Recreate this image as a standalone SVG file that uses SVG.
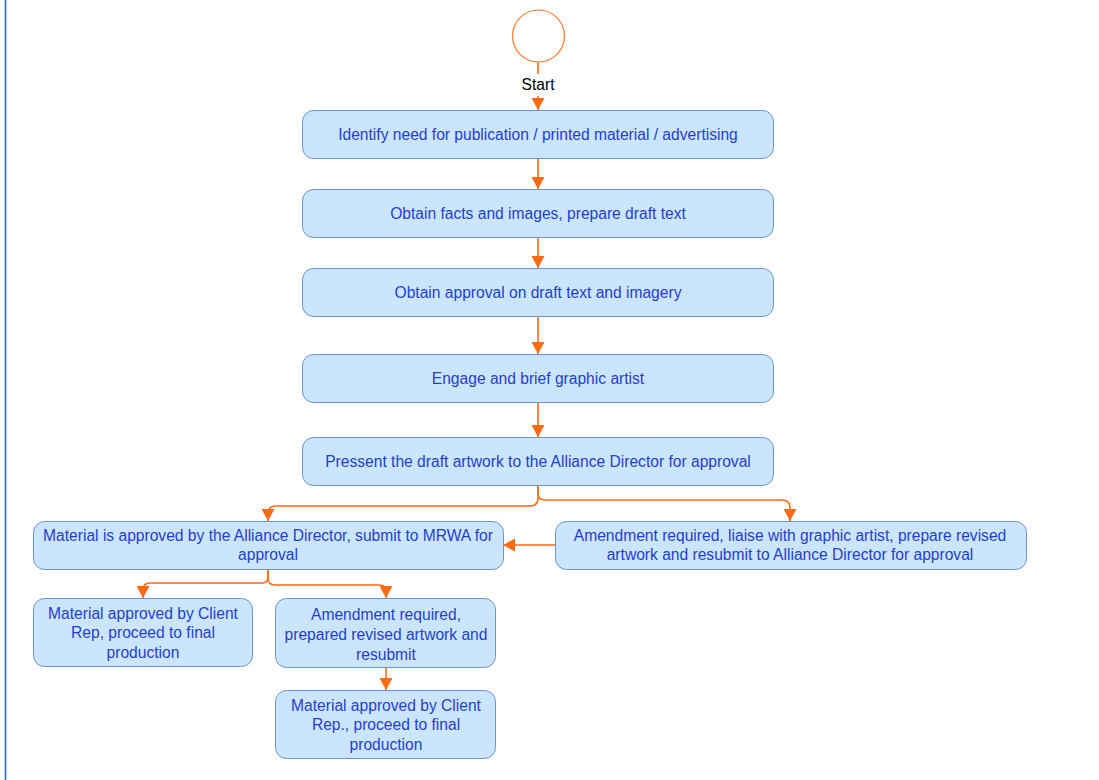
<svg xmlns="http://www.w3.org/2000/svg" width="1099" height="780" viewBox="0 0 1099 780">
  <style>
    .box { fill: #cce5fe; stroke: #6b94d6; stroke-width: 1; }
    .lbl { font-family: "Liberation Sans", Arial, sans-serif; font-size: 15.6px; fill: #1f3fcf; text-anchor: middle; }
    .edge { fill: none; stroke: #ff6a13; stroke-width: 1.6; }
  </style>
  <defs>
    <marker id="arrow" viewBox="0 0 12 13" refX="12" refY="6.5" markerWidth="12" markerHeight="13" markerUnits="userSpaceOnUse" orient="auto">
      <path d="M0,0 L12,6.5 L0,13 Z" fill="#ff6a13"/>
    </marker>
  </defs>
  <rect width="1099" height="780" fill="#ffffff"/>
  <!-- page margin line -->
  <line x1="5.5" y1="0" x2="5.5" y2="780" stroke="#c9dcff" stroke-width="3"/>
  <line x1="5.5" y1="0" x2="5.5" y2="780" stroke="#2a74f0" stroke-width="1.2"/>

  <g id="connectors">
    <line class="edge" x1="538" y1="62" x2="538" y2="74"/>
    <line class="edge" x1="538" y1="96" x2="538" y2="110" marker-end="url(#arrow)"/>
    <line class="edge" x1="538" y1="158" x2="538" y2="189" marker-end="url(#arrow)"/>
    <line class="edge" x1="538" y1="237" x2="538" y2="268" marker-end="url(#arrow)"/>
    <line class="edge" x1="538" y1="317" x2="538" y2="354" marker-end="url(#arrow)"/>
    <line class="edge" x1="538" y1="402" x2="538" y2="437" marker-end="url(#arrow)"/>
    <path class="edge" d="M538,485 L538,498 Q538,506 530,506 L276,506 Q268,506 268,514 L268,521" marker-end="url(#arrow)"/>
    <path class="edge" d="M538,485 L538,493 Q538,500 545,500 L782,500 Q790,500 790,508 L790,521" marker-end="url(#arrow)"/>
    <line class="edge" x1="555" y1="545" x2="503" y2="545" marker-end="url(#arrow)"/>
    <path class="edge" d="M268,569 L268,577 Q268,583 262,583 L150,583 Q143,583 143,590 L143,598" marker-end="url(#arrow)"/>
    <path class="edge" d="M268,569 L268,578 Q268,585 275,585 L379,585 Q386,585 386,591 L386,598" marker-end="url(#arrow)"/>
    <line class="edge" x1="386" y1="668" x2="386" y2="690" marker-end="url(#arrow)"/>
  </g>

  <g id="start">
    <circle cx="538.5" cy="36" r="26" fill="#ffffff" stroke="#ff7a2a" stroke-width="1.2"/>
    <text x="538" y="90" font-family="Liberation Sans, Arial, sans-serif" font-size="15.6" fill="#000000" text-anchor="middle">Start</text>
  </g>

  <g id="identify">
    <rect class="box" x="302.5" y="110.5" width="471" height="48" rx="11"/>
    <text class="lbl" x="538" y="140">Identify need for publication / printed material / advertising</text>
  </g>
  <g id="obtain-facts">
    <rect class="box" x="302.5" y="189.5" width="471" height="48" rx="11"/>
    <text class="lbl" x="538" y="219">Obtain facts and images, prepare draft text</text>
  </g>
  <g id="obtain-approval">
    <rect class="box" x="302.5" y="268.5" width="471" height="48" rx="11"/>
    <text class="lbl" x="538" y="298">Obtain approval on draft text and imagery</text>
  </g>
  <g id="engage-artist">
    <rect class="box" x="302.5" y="354.5" width="471" height="48" rx="11"/>
    <text class="lbl" x="538" y="384">Engage and brief graphic artist</text>
  </g>
  <g id="present-draft">
    <rect class="box" x="302.5" y="437.5" width="471" height="48" rx="11"/>
    <text class="lbl" x="538" y="467">Pressent the draft artwork to the Alliance Director for approval</text>
  </g>
  <g id="approved-director">
    <rect class="box" x="33.5" y="521.5" width="470" height="48" rx="11"/>
    <text class="lbl" x="268" y="541">Material is approved by the Alliance Director, submit to MRWA for</text>
    <text class="lbl" x="268" y="560">approval</text>
  </g>
  <g id="amend-director">
    <rect class="box" x="555.5" y="521.5" width="471" height="48" rx="11"/>
    <text class="lbl" x="790" y="541">Amendment required, liaise with graphic artist, prepare revised</text>
    <text class="lbl" x="790" y="560">artwork and resubmit to Alliance Director for approval</text>
  </g>
  <g id="approved-client">
    <rect class="box" x="33.5" y="598.5" width="219" height="68" rx="11"/>
    <text class="lbl" x="143" y="619">Material approved by Client</text>
    <text class="lbl" x="143" y="638">Rep, proceed to final</text>
    <text class="lbl" x="143" y="658">production</text>
  </g>
  <g id="amend-client">
    <rect class="box" x="275.5" y="598.5" width="220" height="69" rx="11"/>
    <text class="lbl" x="386" y="620">Amendment required,</text>
    <text class="lbl" x="386" y="640">prepared revised artwork and</text>
    <text class="lbl" x="386" y="660">resubmit</text>
  </g>
  <g id="approved-client-final">
    <rect class="box" x="275.5" y="690.5" width="220" height="68" rx="11"/>
    <text class="lbl" x="386" y="711">Material approved by Client</text>
    <text class="lbl" x="386" y="730">Rep., proceed to final</text>
    <text class="lbl" x="386" y="750">production</text>
  </g>
</svg>
